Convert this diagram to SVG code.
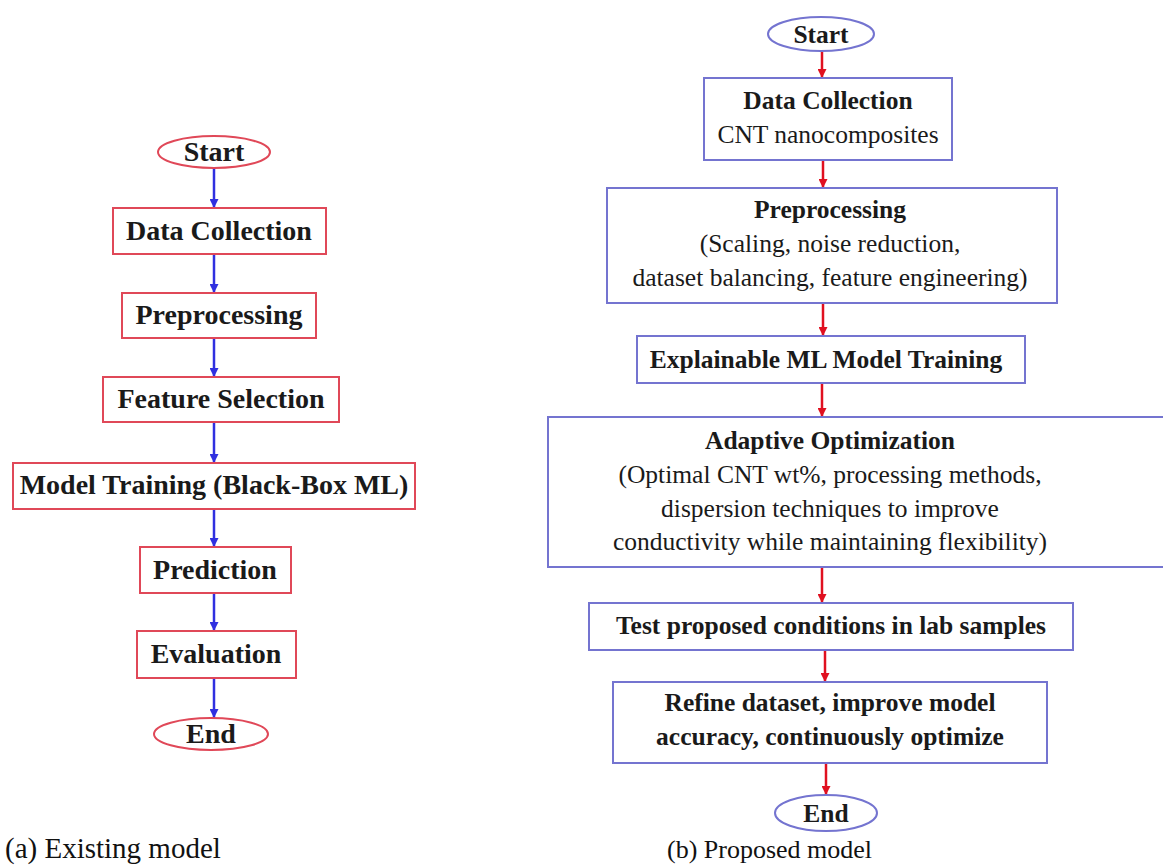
<svg xmlns="http://www.w3.org/2000/svg" width="1163" height="868" viewBox="0 0 1163 868">
<defs>
<marker id="ab" viewBox="0 0 10 10" refX="10" refY="5" markerWidth="9" markerHeight="9" markerUnits="userSpaceOnUse" orient="auto"><path d="M0,0 L10,5 L0,10 z" fill="#3030e0"/></marker>
<marker id="ar" viewBox="0 0 10 10" refX="10" refY="5" markerWidth="9" markerHeight="9" markerUnits="userSpaceOnUse" orient="auto"><path d="M0,0 L10,5 L0,10 z" fill="#e01020"/></marker>
</defs>
<style>
.lb{fill:#fff;stroke:#e04858;stroke-width:2}
.rb{fill:#fff;stroke:#7474d0;stroke-width:2}
.t{font-family:"Liberation Serif","Times New Roman",serif;fill:#1a1a1a;text-anchor:middle}
.bl{font-weight:bold;font-size:28px}
.br{font-weight:bold;font-size:25.5px}
.rr{font-size:25.5px}
.cap{font-family:"Liberation Serif","Times New Roman",serif;fill:#111}
.ca{stroke:#3030e0;stroke-width:2.5;fill:none}
.cr{stroke:#e01020;stroke-width:2.5;fill:none}
</style>
<rect width="1163" height="868" fill="#fff"/>
<g id="connectors">
<line class="ca" x1="214" y1="168" x2="214" y2="208" marker-end="url(#ab)"/>
<line class="ca" x1="214" y1="254" x2="214" y2="293" marker-end="url(#ab)"/>
<line class="ca" x1="214" y1="338" x2="214" y2="377" marker-end="url(#ab)"/>
<line class="ca" x1="214" y1="422" x2="214" y2="463" marker-end="url(#ab)"/>
<line class="ca" x1="214" y1="509" x2="214" y2="547" marker-end="url(#ab)"/>
<line class="ca" x1="214" y1="593" x2="214" y2="631" marker-end="url(#ab)"/>
<line class="ca" x1="214" y1="678" x2="214" y2="718" marker-end="url(#ab)"/>
<line class="cr" x1="822" y1="52" x2="822" y2="78" marker-end="url(#ar)"/>
<line class="cr" x1="823" y1="160" x2="823" y2="188" marker-end="url(#ar)"/>
<line class="cr" x1="823" y1="303" x2="823" y2="336" marker-end="url(#ar)"/>
<line class="cr" x1="822" y1="383" x2="822" y2="417" marker-end="url(#ar)"/>
<line class="cr" x1="822" y1="567" x2="822" y2="603" marker-end="url(#ar)"/>
<line class="cr" x1="825" y1="650" x2="825" y2="682" marker-end="url(#ar)"/>
<line class="cr" x1="826" y1="763" x2="826" y2="795" marker-end="url(#ar)"/>
</g>
<g id="a-start"><ellipse class="lb" cx="214" cy="152" rx="56" ry="16"/><text class="t bl" x="214" y="161">Start</text></g>
<g id="a-data"><rect class="lb" x="113" y="208" width="213" height="46"/><text class="t bl" x="219" y="240">Data Collection</text></g>
<g id="a-pre"><rect class="lb" x="122" y="293" width="194" height="45"/><text class="t bl" x="219" y="324">Preprocessing</text></g>
<g id="a-feat"><rect class="lb" x="103" y="377" width="236" height="45"/><text class="t bl" x="221" y="408">Feature Selection</text></g>
<g id="a-train"><rect class="lb" x="13" y="463" width="402" height="46"/><text class="t bl" x="214" y="494">Model Training (Black-Box ML)</text></g>
<g id="a-pred"><rect class="lb" x="140" y="547" width="151" height="46"/><text class="t bl" x="215" y="579">Prediction</text></g>
<g id="a-eval"><rect class="lb" x="137" y="631" width="159" height="47"/><text class="t bl" x="216" y="663">Evaluation</text></g>
<g id="a-end"><ellipse class="lb" cx="211" cy="734" rx="57" ry="16"/><text class="t bl" x="211" y="743">End</text></g>
<text class="cap" x="5" y="858" font-size="29">(a) Existing model</text>

<g id="b-start"><ellipse class="rb" cx="821" cy="34" rx="53" ry="17"/><text class="t br" x="821" y="43">Start</text></g>
<g id="b-data"><rect class="rb" x="704" y="78" width="248" height="82"/><text class="t br" x="828" y="109">Data Collection</text><text class="t rr" x="828" y="143">CNT nanocomposites</text></g>
<g id="b-pre"><rect class="rb" x="607" y="188" width="450" height="115"/><text class="t br" x="830" y="218">Preprocessing</text><text class="t rr" x="830" y="252">(Scaling, noise reduction,</text><text class="t rr" x="830" y="286">dataset balancing, feature engineering)</text></g>
<g id="b-xml"><rect class="rb" x="637" y="336" width="388" height="47"/><text class="t br" x="826" y="368">Explainable ML Model Training</text></g>
<g id="b-opt"><rect class="rb" x="548" y="417" width="630" height="150"/><text class="t br" x="830" y="449">Adaptive Optimization</text><text class="t rr" x="830" y="483">(Optimal CNT wt%, processing methods,</text><text class="t rr" x="830" y="517">dispersion techniques to improve</text><text class="t rr" x="830" y="550">conductivity while maintaining flexibility)</text></g>
<g id="b-test"><rect class="rb" x="589" y="603" width="484" height="47"/><text class="t br" x="831" y="634">Test proposed conditions in lab samples</text></g>
<g id="b-refine"><rect class="rb" x="613" y="682" width="434" height="81"/><text class="t br" x="830" y="711">Refine dataset, improve model</text><text class="t br" x="830" y="745">accuracy, continuously optimize</text></g>
<g id="b-end"><ellipse class="rb" cx="826" cy="813" rx="51" ry="18"/><text class="t br" x="826" y="822">End</text></g>
<text class="cap" x="667" y="858" font-size="26">(b) Proposed model</text>
</svg>
